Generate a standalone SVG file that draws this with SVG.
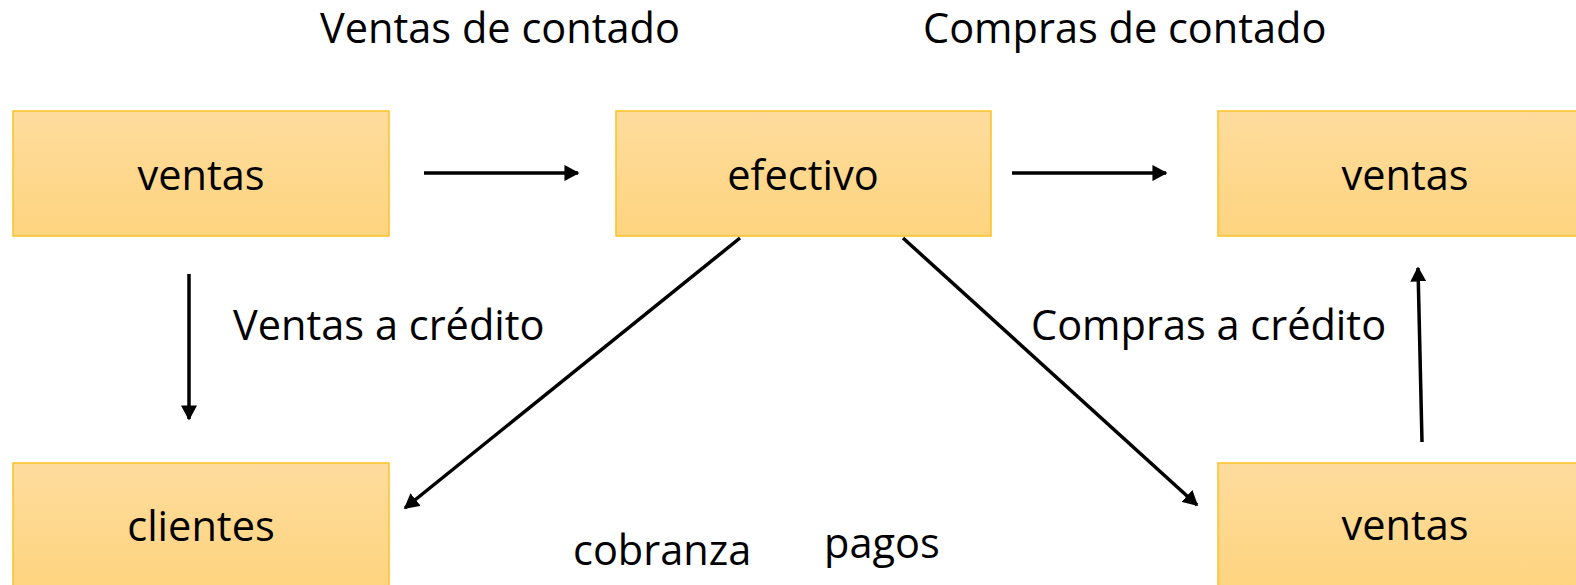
<svg xmlns="http://www.w3.org/2000/svg" width="1576" height="585" viewBox="0 0 1576 585">
<style>
.box{fill:url(#g);stroke:#fcc226;stroke-width:1.5}
.t{font-family:"Open Sans","Liberation Sans",sans-serif;font-size:41.5px;fill:#000}
.m{text-anchor:middle}
.c{stroke:#000;stroke-width:3.5;fill:none;marker-end:url(#a)}
</style>
<defs>
<linearGradient id="g" x1="0" y1="0" x2="0" y2="1">
<stop offset="0" stop-color="#fedc9d"/>
<stop offset="1" stop-color="#fed47f"/>
</linearGradient>
<marker id="a" viewBox="0 0 10 10" refX="9" refY="5" markerWidth="4.3" markerHeight="4.6" orient="auto" markerUnits="strokeWidth" preserveAspectRatio="none">
<path d="M0,0L10,5L0,10z" fill="#000"/>
</marker>
</defs>
<text class="t" x="320" y="43">Ventas de contado</text>
<text class="t" x="923" y="43">Compras de contado</text>
<g id="n1"><rect class="box" x="13" y="111" width="376" height="125"/><text class="t m" x="201" y="190">ventas</text></g>
<g id="n2"><rect class="box" x="616" y="111" width="375" height="125"/><text class="t m" x="803" y="190">efectivo</text></g>
<g id="n3"><rect class="box" x="1218" y="111" width="376" height="125"/><text class="t m" x="1405" y="190">ventas</text></g>
<g id="n4"><rect class="box" x="13" y="463" width="376" height="125"/><text class="t m" x="201" y="541">clientes</text></g>
<g id="n5"><rect class="box" x="1218" y="463" width="376" height="125"/><text class="t m" x="1405" y="540">ventas</text></g>
<g id="connectors">
<line class="c" x1="424" y1="173" x2="578" y2="173"/>
<line class="c" x1="1012" y1="173" x2="1166" y2="173"/>
<line class="c" x1="189" y1="274" x2="189" y2="419"/>
<line class="c" x1="1422" y1="442" x2="1418" y2="268"/>
<line class="c" x1="740" y1="238" x2="405" y2="508"/>
<line class="c" x1="903" y1="238" x2="1197" y2="505"/>
</g>
<text class="t" x="233" y="340">Ventas a crédito</text>
<text class="t" x="1031" y="340">Compras a crédito</text>
<text class="t" x="573" y="565">cobranza</text>
<text class="t" x="824" y="558">pagos</text>
</svg>
